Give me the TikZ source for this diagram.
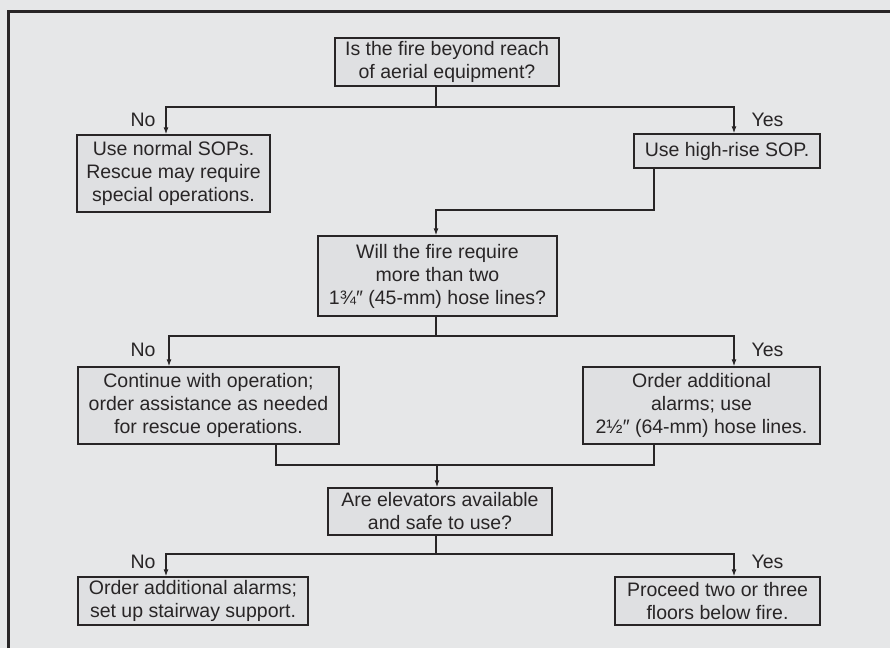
\documentclass[tikz,border=0pt]{standalone}
\usepackage{fontspec}
\setmainfont{Liberation Sans}
\usetikzlibrary{positioning, arrows.meta}
\usepackage{xcolor}
\definecolor{panelgray}{RGB}{230,231,232}
\definecolor{boxgray}{RGB}{223,224,226}
\definecolor{inkgray}{RGB}{40,37,38}

\begin{document}
\begin{tikzpicture}[
        x=1pt, y=-1pt,
        >={Latex[length=7pt,width=5pt]},
        every node/.style={
            font=\fontsize{19.5}{23}\selectfont,
            text=inkgray
        },
        box/.style={
            draw=inkgray,
            fill=boxgray,
            line width=1.4pt,
            align=center,
            inner sep=0pt
        },
        link/.style={draw=inkgray, line width=1.2pt}
    ]
        % Panel and frame
        \useasboundingbox (0,0) rectangle (890,648);
        \fill[panelgray] (0,0) rectangle (890,648);
        \draw[inkgray, line width=3pt] (8.5,648) -- (8.5,11.5) -- (890,11.5);

        % Boxes
        \node[box, minimum width=224pt, minimum height=48pt] (Q1) at (447,62) {Is the fire beyond reach\\of aerial equipment?};
        \node[box, minimum width=193pt, minimum height=77pt] (N1) at (173.5,173.5) {Use normal SOPs.\\Rescue may require\\special operations.};
        \node[box, minimum width=186pt, minimum height=34pt] (Y1) at (727,151) {Use high-rise SOP.};
        \node[box, minimum width=239pt, minimum height=80pt] (Q2) at (437.5,276) {Will the fire require\\more than two\\1¾″ (45-mm) hose lines?};
        \node[box, minimum width=261pt, minimum height=77pt] (N2) at (208.5,405.5) {Continue with operation;\\order assistance as needed\\for rescue operations.};
        \node[box, minimum width=237pt, minimum height=77pt] (Y2) at (701.5,405.5) {Order additional\\alarms; use\\2½″ (64-mm) hose lines.};
        \node[box, minimum width=224pt, minimum height=47pt] (Q3) at (440,511.5) {Are elevators available\\and safe to use?};
        \node[box, minimum width=230pt, minimum height=48pt] (N3) at (193,601) {Order additional alarms;\\set up stairway support.};
        \node[box, minimum width=205pt, minimum height=48pt] (Y3) at (717.5,601) {Proceed two or three\\floors below fire.};

        % Branch points
        \coordinate (J1) at (436,107);
        \coordinate (J2) at (436,210);
        \coordinate (J3) at (436,336);
        \coordinate (J4) at (437,465);
        \coordinate (J5) at (436,554);

        % First question
        \draw[link] (Q1.south -| J1) -- (J1);
        \draw[link, ->] (J1) -| ([xshift=-7.5pt]N1.north);
        \draw[link, ->] (J1) -| ([xshift=7pt]Y1.north);
        \node[anchor=east] (no1) at (159,120) {No};
        \node[anchor=west] (yes1) at (748,120) {Yes};

        % High-rise SOP to second question
        \draw[link, ->] ([xshift=-73pt]Y1.south) |- (J2) -- (Q2.north -| J2);

        % Second question
        \draw[link] (Q2.south -| J3) -- (J3);
        \draw[link, ->] (J3) -| ([xshift=-39.5pt]N2.north);
        \draw[link, ->] (J3) -| ([xshift=32.5pt]Y2.north);
        \node[anchor=east] (no2) at (159,350) {No};
        \node[anchor=west] (yes2) at (748,350) {Yes};

        % Both paths join
        \draw[link] ([xshift=67.5pt]N2.south) |- (J4);
        \draw[link] ([xshift=-47.5pt]Y2.south) |- (J4);
        \draw[link, ->] (J4) -- (Q3.north -| J4);

        % Third question
        \draw[link] (Q3.south -| J5) -- (J5);
        \draw[link, ->] (J5) -| ([xshift=-27pt]N3.north);
        \draw[link, ->] (J5) -| ([xshift=16.5pt]Y3.north);
        \node[anchor=east] (no3) at (159,562) {No};
        \node[anchor=west] (yes3) at (748,562) {Yes};
\end{tikzpicture}
\end{document}
